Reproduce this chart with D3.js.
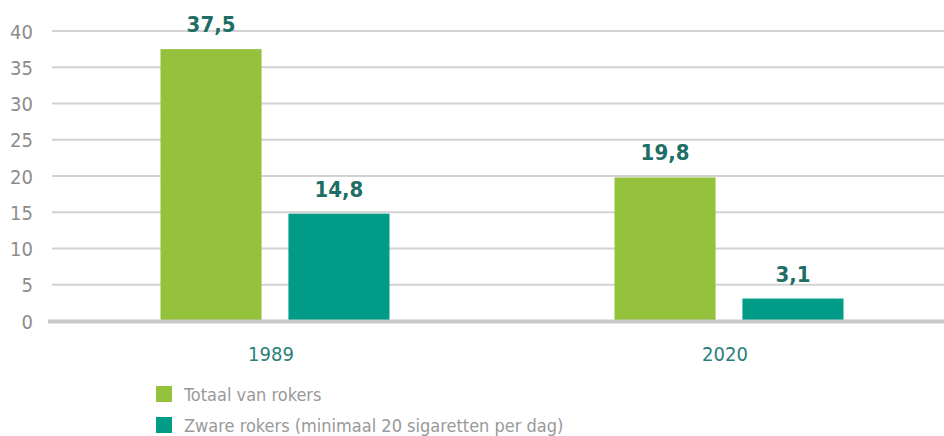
<!DOCTYPE html>
<html>
<head>
<meta charset="utf-8">
<script src="https://cdn.jsdelivr.net/npm/d3@7"></script>
<style>
  body { margin: 0; background: #fff; }
  text { font-family: "Liberation Sans Narrow", "DejaVu Sans Condensed", "Roboto", sans-serif; }
</style>
</head>
<body>
<svg id="chart"></svg>
<script>
// data
var years = ["1989", "2020"];
var seriesNames = ["Totaal van rokers", "Zware rokers (minimaal 20 sigaretten per dag)"];
var totaal = [37.5, 19.8];
var zware = [14.8, 3.1];
var yTicks = [0, 5, 10, 15, 20, 25, 30, 35, 40];

var colors = ["#95c23d", "#009c87"];
var w = 944, h = 436;
var margin = {top: 31, left: 52, right: 0, bottom: 115};

var svg = d3.select("#chart").attr("width", w).attr("height", h);

// scales (groups sit slightly right of the plot centre in the original)
var x0 = d3.scaleBand().domain(years).range([48, 956]);
var x1 = d3.scaleBand().domain([0, 1]).range([x0.bandwidth() / 2 - 114.5, x0.bandwidth() / 2 + 114.5]).paddingInner(0.21);
var y = d3.scaleLinear().domain([0, 40]).range([h - margin.bottom, margin.top]);

// gridlines
svg.append("g")
    .selectAll("line")
    .data(yTicks.filter(function(d) { return d > 0; }))
    .enter()
    .append("line")
    .attr("x1", margin.left)
    .attr("x2", w)
    .attr("y1", function(d) { return y(d); })
    .attr("y2", function(d) { return y(d); })
    .attr("stroke", "#d2d2d2")
    .attr("stroke-width", 2);

// y axis labels
var yAxis = svg.append("g")
    .attr("transform", "translate(" + 33 + ",0)")
    .call(d3.axisLeft(y).tickValues(yTicks).tickSize(0).tickPadding(0));
yAxis.select(".domain").remove();
yAxis.selectAll("text")
    .attr("fill", "#8c8c8c")
    .style("font-size", "20px")
    .attr("dy", "0.36em");

// bars
var rows = years.map(function(yr, i) { return {year: yr, vals: [totaal[i], zware[i]]}; });
var groups = svg.selectAll(".grp")
    .data(rows)
    .enter()
    .append("g")
    .attr("transform", function(d) { return "translate(" + x0(d.year) + ",0)"; });

groups.selectAll("rect")
    .data(function(d) { return d.vals; })
    .enter()
    .append("rect")
    .attr("x", function(d, i) { return x1(i); })
    .attr("y", function(d) { return y(d); })
    .attr("width", x1.bandwidth())
    .attr("height", function(d) { return y(0) - y(d); })
    .attr("fill", function(d, i) { return colors[i]; });

groups.selectAll(".val")
    .data(function(d) { return d.vals; })
    .enter()
    .append("text")
    .attr("x", function(d, i) { return x1(i) + x1.bandwidth() / 2; })
    .attr("y", function(d) { return y(d) - 17; })
    .attr("text-anchor", "middle")
    .attr("fill", "#1e6e66")
    .style("font-size", "22px")
    .style("font-weight", "bold")
    .text(function(d) { return String(d).replace(".", ","); });

// baseline
svg.append("line")
    .attr("x1", margin.left - 4)
    .attr("x2", w)
    .attr("y1", y(0) + 0.5)
    .attr("y2", y(0) + 0.5)
    .attr("stroke", "#c8c8c8")
    .attr("stroke-width", 4);

// x labels
svg.append("g")
    .selectAll("text")
    .data(years)
    .enter()
    .append("text")
    .attr("x", function(d) { return x0(d) + x0.bandwidth() / 2 - 4; })
    .attr("y", 361)
    .attr("text-anchor", "middle")
    .attr("fill", "#2a7f78")
    .style("font-size", "20px")
    .text(function(d) { return d; });

// legend
var legend = svg.append("g")
    .selectAll("g")
    .data(seriesNames)
    .enter()
    .append("g")
    .attr("transform", function(d, i) { return "translate(156," + (386 + i * 31) + ")"; });
legend.append("rect")
    .attr("width", 16)
    .attr("height", 16)
    .attr("fill", function(d, i) { return colors[i]; });
legend.append("text")
    .attr("x", 28)
    .attr("y", 15)
    .attr("fill", "#999")
    .style("font-size", "18px")
    .text(function(d) { return d; });
</script>
</body>
</html>
